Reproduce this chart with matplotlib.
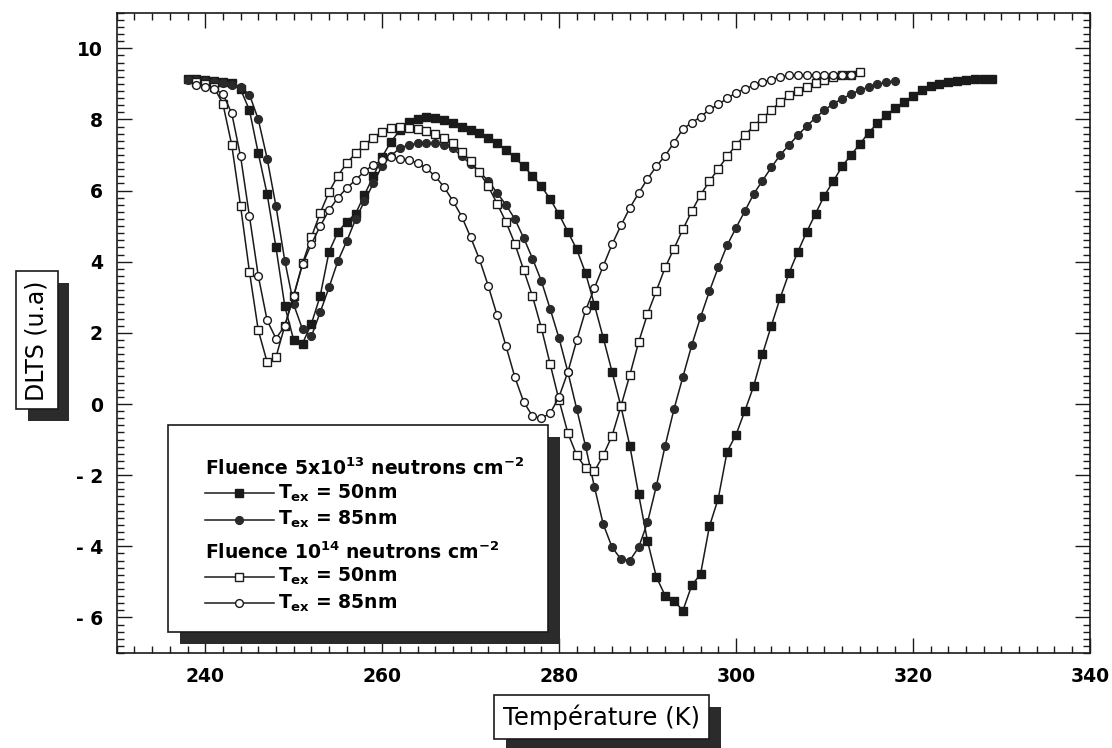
import numpy as np
import matplotlib
matplotlib.use("Agg")
import matplotlib.pyplot as plt
from matplotlib.lines import Line2D
from matplotlib.patches import Rectangle
from matplotlib.ticker import MultipleLocator
import matplotlib.patheffects as pe

plt.rcParams['font.family'] = ['DejaVu Sans']
plt.rcParams['axes.unicode_minus'] = False
plt.rcParams['mathtext.default'] = 'bf'

# ---- data ----
temps_a = np.arange(238, 330)   # 5e13, Tox = 50 nm (filled squares)
dlts_a = [9.15, 9.13, 9.11, 9.09, 9.06, 9.02,
          8.85, 8.26, 7.05, 5.9, 4.4, 2.75,
          1.8, 1.7, 2.25, 3.04,
          4.28, 4.84, 5.12, 5.35,
          5.88, 6.4, 6.95, 7.37,
          7.7, 7.93, 8.02, 8.07,
          8.05, 7.98, 7.89, 7.79,
          7.70, 7.61, 7.49, 7.33,
          7.14, 6.93, 6.68, 6.42,
          6.12, 5.76, 5.33, 4.84,
          4.35, 3.68, 2.79, 1.86,
          0.9, -0.07, -1.17, -2.54,
          -3.85, -4.86, -5.39, -5.53,
          -5.81, -5.1, -4.78, -3.44,
          -2.66, -1.34, -0.87, -0.2,
          0.5, 1.4, 2.2, 2.98,
          3.68, 4.28, 4.84, 5.35,
          5.86, 6.26, 6.68, 7.0,
          7.3, 7.63, 7.89, 8.12,
          8.32, 8.49, 8.66, 8.82,
          8.93, 9.0, 9.05, 9.09,
          9.11, 9.13, 9.14, 9.14]

temps_b = np.arange(238, 319)   # 5e13, Tox = 85 nm (filled circles)
dlts_b = [9.12, 9.1, 9.08, 9.05, 9.02, 8.98, 8.9, 8.7, 8.0, 6.9,
          5.56, 4.02, 2.8, 2.1, 1.9, 2.58, 3.28, 4.02, 4.58, 5.19,
          5.7, 6.2, 6.7, 6.98, 7.19, 7.28, 7.33, 7.34, 7.33, 7.28,
          7.19, 6.96, 6.75, 6.52, 6.28, 5.93, 5.6, 5.2, 4.67, 4.09,
          3.46, 2.67, 1.85, 0.9, -0.14, -1.19, -2.33, -3.38, -4.03, -4.36,
          -4.40, -4.03, -3.33, -2.31, -1.17, -0.14, 0.76, 1.65, 2.44, 3.17,
          3.84, 4.46, 4.95, 5.42, 5.9, 6.28, 6.65, 7.0, 7.28, 7.56,
          7.81, 8.05, 8.26, 8.44, 8.58, 8.71, 8.82, 8.91, 8.99, 9.05,
          9.08]

temps_c = np.arange(239, 315)   # 1e14, Tox = 50 nm (open squares)
dlts_c = [9.05, 9.0, 8.9, 8.44, 7.28, 5.56, 3.72, 2.07, 1.18, 1.32,
          2.2, 3.04, 3.95, 4.69, 5.37, 5.96, 6.42, 6.77, 7.05, 7.28,
          7.49, 7.65, 7.75, 7.78, 7.75, 7.72, 7.68, 7.6, 7.47, 7.33,
          7.09, 6.83, 6.51, 6.12, 5.63, 5.12, 4.51, 3.77, 3.03, 2.14,
          1.12, 0.11, -0.82, -1.44, -1.8, -1.89, -1.44, -0.89, -0.06, 0.81,
          1.74, 2.53, 3.18, 3.84, 4.37, 4.91, 5.42, 5.88, 6.26, 6.61,
          6.96, 7.28, 7.56, 7.81, 8.04, 8.26, 8.49, 8.68, 8.79, 8.91,
          9.03, 9.1, 9.19, 9.24, 9.26, 9.33]

temps_d = np.arange(239, 314)   # 1e14, Tox = 85 nm (open circles)
dlts_d = [8.96, 8.91, 8.85, 8.72, 8.17, 6.96, 5.28, 3.6, 2.35, 1.84,
          2.2, 3.04, 3.93, 4.5, 5.0, 5.45, 5.8, 6.07, 6.3, 6.54,
          6.72, 6.85, 6.93, 6.9, 6.86, 6.77, 6.63, 6.4, 6.1, 5.71,
          5.27, 4.69, 4.07, 3.32, 2.49, 1.63, 0.76, 0.06, -0.34, -0.4,
          -0.26, 0.2, 0.9, 1.79, 2.63, 3.26, 3.88, 4.49, 5.02, 5.51,
          5.93, 6.33, 6.68, 6.98, 7.35, 7.73, 7.91, 8.07, 8.28, 8.42,
          8.59, 8.75, 8.86, 8.96, 9.05, 9.12, 9.19, 9.24, 9.24, 9.25,
          9.25, 9.24, 9.24, 9.24, 9.25]

legend_headers = [r"Fluence 5x10$^{13}$ neutrons cm$^{-2}$",
                  r"Fluence 10$^{14}$ neutrons cm$^{-2}$"]
legend_labels = [r"T$_{ex}$ = 50nm", r"T$_{ex}$ = 85nm"]
xlabel = "Température (K)"
ylabel = "DLTS (u.a)"

# ---- figure ----
fig = plt.figure(figsize=(11.12, 7.48), dpi=100)
ax = fig.add_axes([0.105, 0.127, 0.875, 0.856])

series = [
    (temps_a, dlts_a, dict(marker='s', mfc='#1a1a1a', mec='#1a1a1a')),
    (temps_b, dlts_b, dict(marker='o', mfc='#2a2a2a', mec='#2a2a2a')),
    (temps_c, dlts_c, dict(marker='s', mfc='white', mec='#1a1a1a')),
    (temps_d, dlts_d, dict(marker='o', mfc='white', mec='#1a1a1a')),
]
for t, v, st in series:
    ax.plot(t, v, color='#1a1a1a', lw=1.1, ms=5.6, mew=1.0, **st)

ax.set_xlim(230, 340)
ax.set_ylim(-7, 11)
ax.xaxis.set_major_locator(MultipleLocator(20))
ax.xaxis.set_minor_locator(MultipleLocator(2))
ax.yaxis.set_major_locator(MultipleLocator(2))
ax.yaxis.set_minor_locator(MultipleLocator(0.2))
ax.tick_params(which='both', direction='in', top=True, right=True,
               width=1.0, color='#1a1a1a')
ax.tick_params(which='major', length=11, labelsize=13.5, pad=10)
ax.tick_params(which='minor', length=5)
ax.set_xticks([240, 260, 280, 300, 320, 340])
ax.set_xticklabels(['240', '260', '280', '300', '320', '340'], fontweight='bold')
yt = [-6, -4, -2, 0, 2, 4, 6, 8, 10]
ax.set_yticks(yt)
ax.set_yticklabels([("- %d" % -v) if v < 0 else "%d" % v for v in yt], fontweight='bold')
for s in ax.spines.values():
    s.set_linewidth(1.2)
    s.set_color('#1a1a1a')

shadow = [pe.withSimplePatchShadow(offset=(8.5, -8.5), shadow_rgbFace='#2b2b2b', alpha=1.0)]

# axis labels in shadowed boxes
tx = fig.text(0.541, 0.041, xlabel, ha='center', va='center', fontsize=17.5,
              bbox=dict(boxstyle='square,pad=0.38', fc='white', ec='#1a1a1a', lw=1.2))
tx.get_bbox_patch().set_path_effects(shadow)
ty = fig.text(0.033, 0.545, ylabel, ha='center', va='center', fontsize=17, rotation=90,
              bbox=dict(boxstyle='square,pad=0.38', fc='white', ec='#1a1a1a', lw=1.2))
ty.get_bbox_patch().set_path_effects(shadow)

# legend box
box = Rectangle((0.0524, 0.0328), 0.3906, 0.3232, transform=ax.transAxes,
                fc='white', ec='#1a1a1a', lw=1.2, zorder=5)
box.set_path_effects(shadow)
ax.add_patch(box)

rows_y = [0.289, 0.25, 0.208, 0.158, 0.119, 0.078]
x_text = 0.0904
x_h0, x_h1, x_m = 0.0904, 0.162, 0.126
x_lab = 0.166
markers = [st for _, _, st in series]
ax.text(x_text, rows_y[0], legend_headers[0], transform=ax.transAxes, fontsize=13.5,
        fontweight='bold', va='center', ha='left', zorder=6)
ax.text(x_text, rows_y[3], legend_headers[1], transform=ax.transAxes, fontsize=13.5,
        fontweight='bold', va='center', ha='left', zorder=6)
for i, row in enumerate([1, 2, 4, 5]):
    y = rows_y[row]
    ax.add_line(Line2D([x_h0, x_h1], [y, y], transform=ax.transAxes, color='#1a1a1a',
                       lw=1.1, zorder=6))
    ax.add_line(Line2D([x_m], [y], transform=ax.transAxes, color='#1a1a1a', lw=0,
                       ms=5.6, mew=1.0, zorder=7, **markers[i]))
    ax.text(x_lab, y, legend_labels[i % 2], transform=ax.transAxes, fontsize=13.5,
            fontweight='bold', va='center', ha='left', zorder=6)

fig.savefig('out.png', dpi=100)
